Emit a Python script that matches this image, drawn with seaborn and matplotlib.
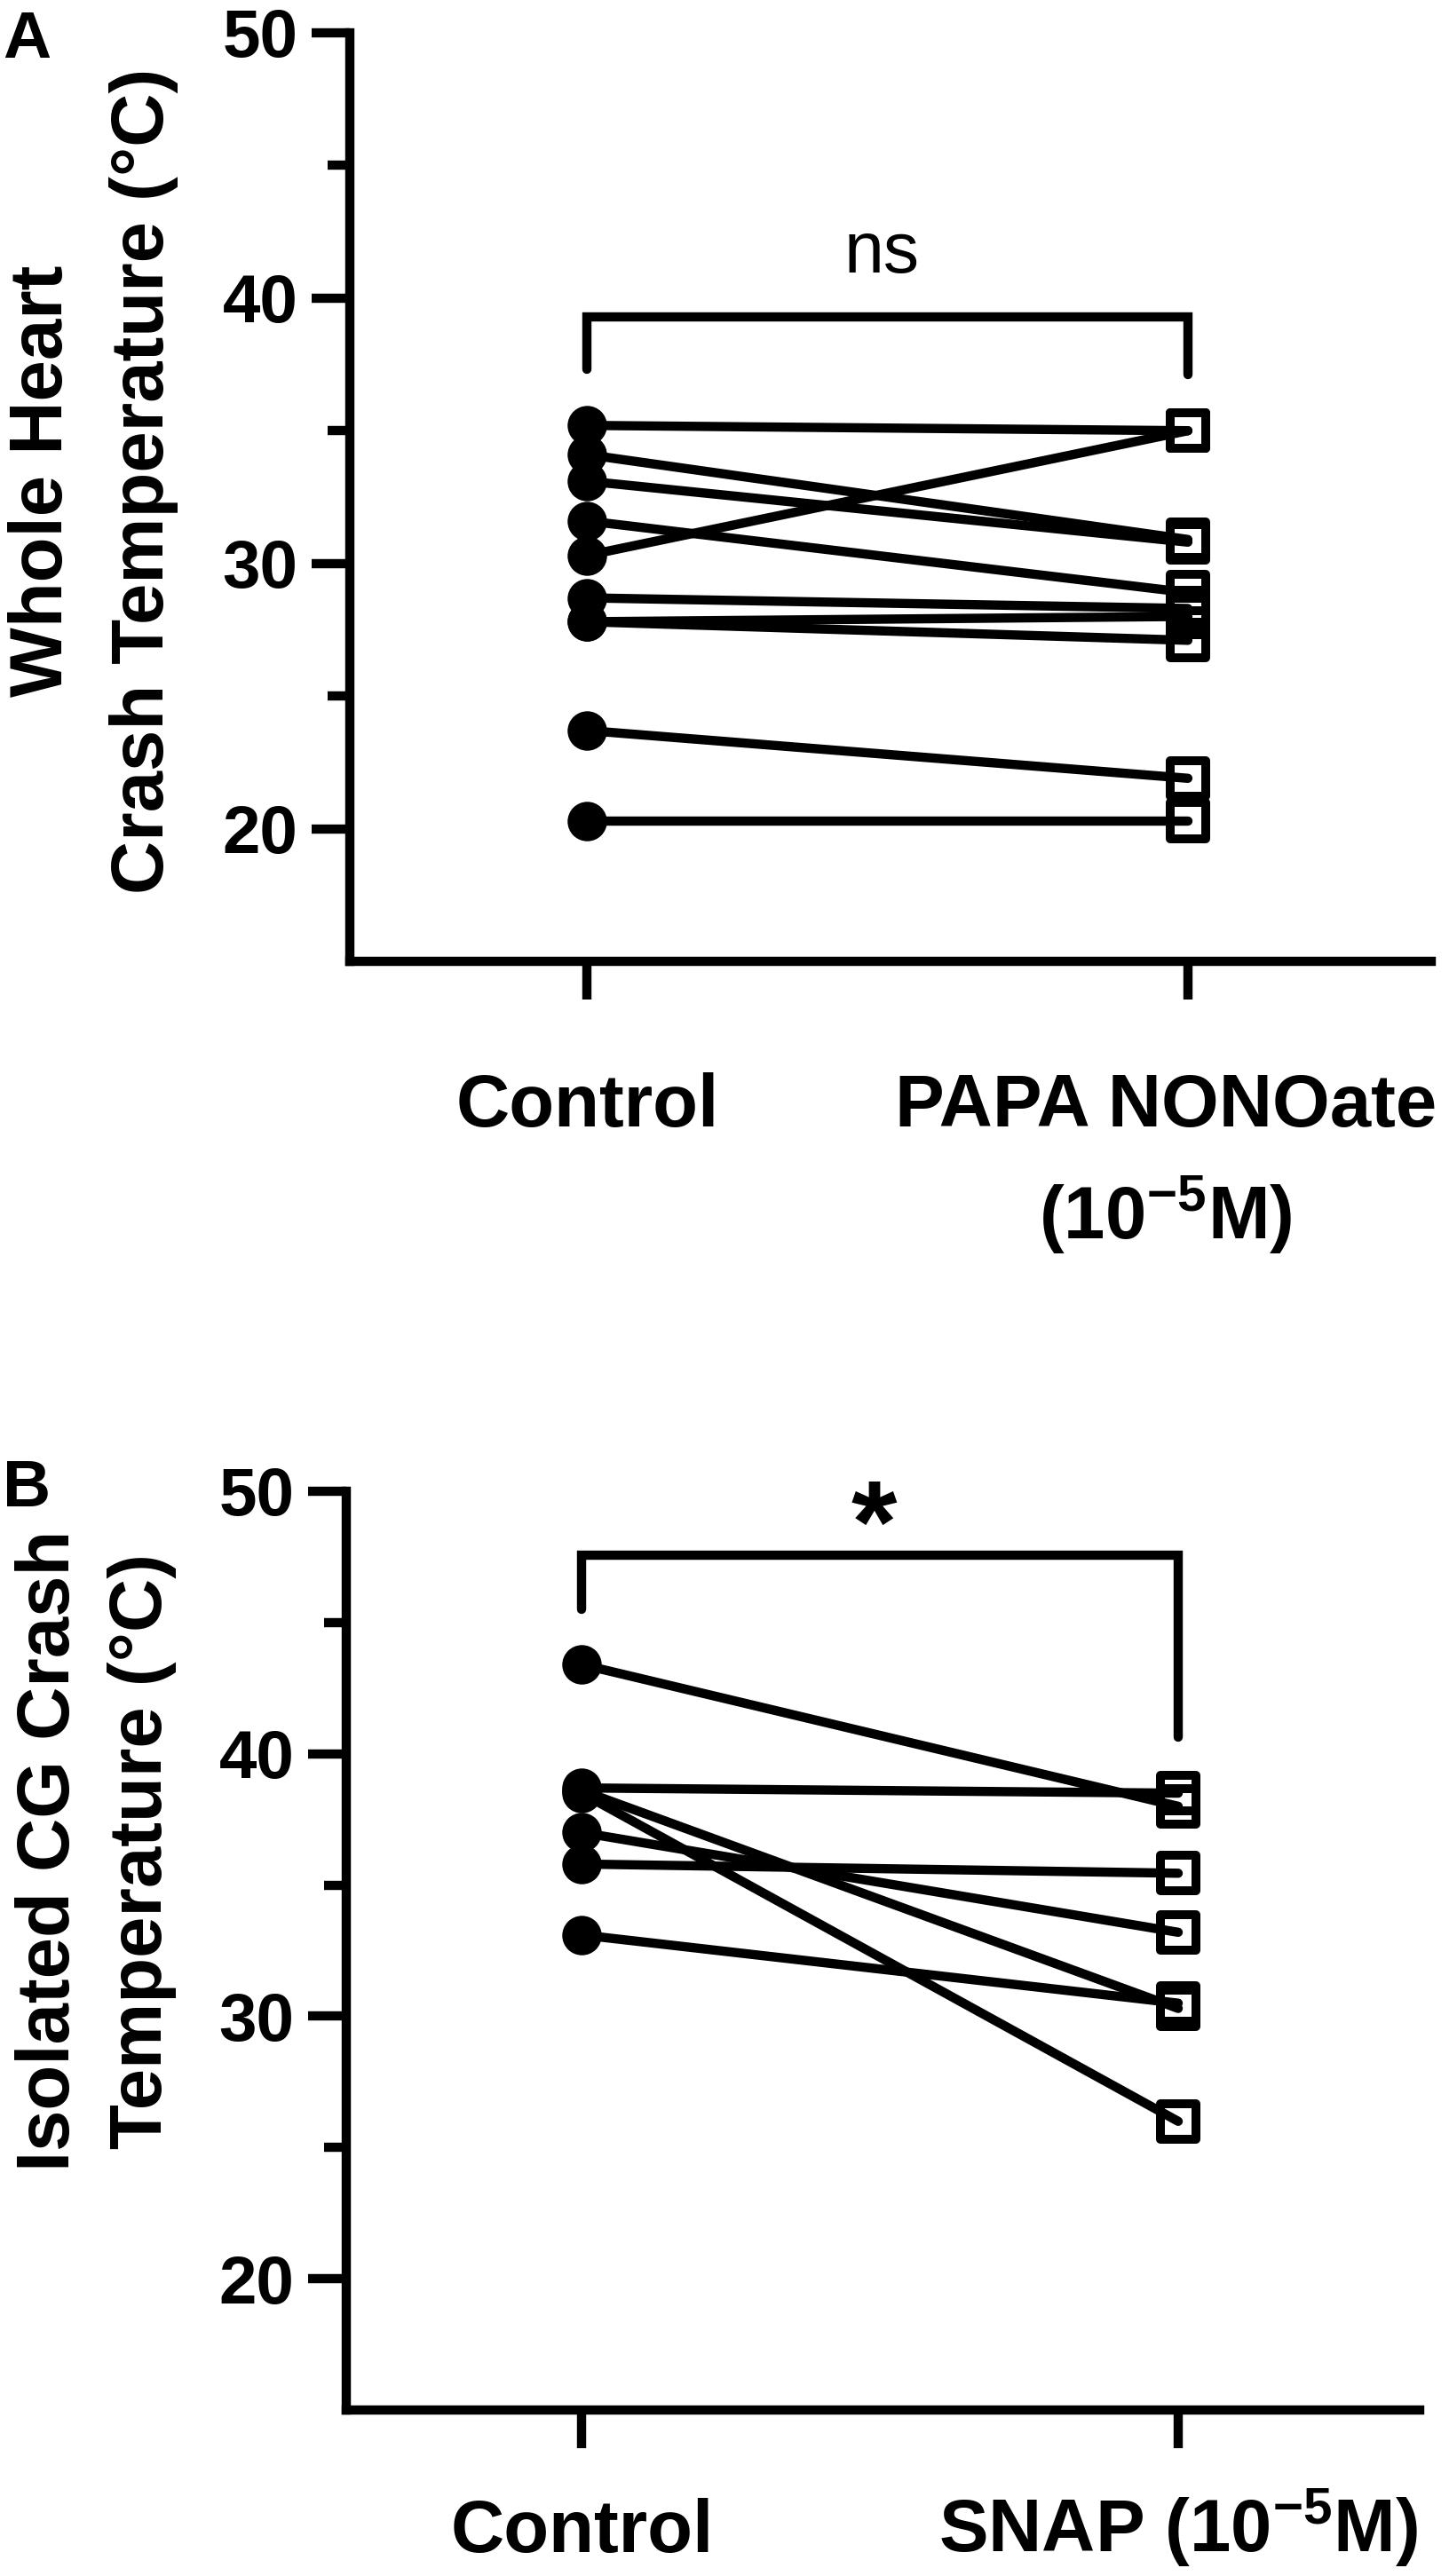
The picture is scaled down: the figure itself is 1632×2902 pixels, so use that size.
import matplotlib
matplotlib.use("Agg")
import matplotlib.pyplot as plt
from matplotlib.transforms import ScaledTranslation
import seaborn as sns
import pandas as pd

# panel A - whole heart, paired control vs PAPA NONOate
a_groups = ["Control", "PAPA NONOate\n(10$^{-5}$M)"]
a_control = [35.2, 34.1, 33.1, 31.6, 30.3, 28.7, 27.8, 27.8, 23.7, 20.3]
a_treated = [35.0, 30.9, 30.8, 28.9, 35.0, 28.3, 28.0, 27.1, 21.9, 20.3]
a_ylabel = "Whole Heart\nCrash Temperature (°C)"

# panel B - isolated cardiac ganglion, paired control vs SNAP
b_groups = ["Control", "SNAP (10$^{-5}$M)"]
b_control = [43.4, 38.7, 38.6, 38.5, 37.0, 35.8, 33.1]
b_treated = [38.0, 38.5, 30.3, 26.0, 33.2, 35.45, 30.5]
b_ylabel = "Isolated CG Crash\nTemperature (°C)"

y_major = [20, 30, 40, 50]
y_minor = [25, 35, 45]

LINE_W = 7.5


def paired_frame(ctrl, trt):
    n = len(ctrl)
    return pd.DataFrame({
        "pair": list(range(n)) * 2,
        "pos": [0] * n + [1] * n,
        "temp": list(ctrl) + list(trt),
    })


def draw_panel(ax, ctrl, trt, groups, x_pad, x_va):
    df = paired_frame(ctrl, trt)

    # one line per animal
    sns.lineplot(data=df, x="pos", y="temp", units="pair", estimator=None,
                 color="black", linewidth=LINE_W, legend=False, ax=ax)
    sns.scatterplot(data=df[df["pos"] == 0], x="pos", y="temp", marker="o",
                    s=32 ** 2, color="black", linewidth=0, legend=False,
                    ax=ax, zorder=3)
    sns.scatterplot(data=df[df["pos"] == 1], x="pos", y="temp", marker="s",
                    s=29 ** 2, facecolors="none", edgecolor="black",
                    linewidth=7.2, legend=False, ax=ax, zorder=3)

    ax.set_xlim(-0.395, 1.405)
    ax.set_ylim(15, 50)
    ax.set_xticks([0, 1])
    ax.set_xticklabels(groups, fontsize=60, fontweight="bold", va=x_va)
    ax.set_yticks(y_major)
    ax.set_yticks(y_minor, minor=True)
    ax.set_yticklabels([str(v) for v in y_major], fontsize=55, fontweight="bold")
    ax.tick_params(which="major", length=31, width=7.5, direction="out")
    ax.tick_params(which="minor", length=18, width=7.5, direction="out")
    ax.tick_params(axis="y", pad=11)
    ax.tick_params(axis="x", pad=x_pad)
    ax.set_xlabel("")
    ax.set_ylabel("")
    sns.despine(ax=ax)
    for sp in ax.spines.values():
        sp.set_capstyle("projecting")


sns.set_theme(style="ticks", rc={
    "axes.edgecolor": "black",
    "axes.linewidth": 7.5,
    "xtick.color": "black",
    "ytick.color": "black",
    "text.color": "black",
    "axes.labelcolor": "black",
})
plt.rcParams["font.family"] = ["Liberation Sans", "DejaVu Sans"]
plt.rcParams["font.weight"] = "bold"
plt.rcParams["mathtext.fontset"] = "custom"
plt.rcParams["mathtext.default"] = "regular"

fig = plt.figure(figsize=(16.33, 29.02), dpi=100)
ax_a = fig.add_axes([0.2413, 0.6268, 0.7458, 0.3605])
ax_b = fig.add_axes([0.2388, 0.0644, 0.7404, 0.3567])

draw_panel(ax_a, a_control, a_treated, a_groups, x_pad=59, x_va="top")
papa = ax_a.get_xticklabels()[1]
papa.set_linespacing(1.5)
# long label sits a little left of its tick so it stays inside the figure
papa.set_transform(papa.get_transform()
                   + ScaledTranslation(-0.25, 0, fig.dpi_scale_trans))
draw_panel(ax_b, b_control, b_treated, b_groups, x_pad=84, x_va="baseline")

# significance brackets
ax_a.plot([0, 0, 1, 1], [37.3, 39.3, 39.3, 37.1], color="black",
          linewidth=LINE_W, solid_joinstyle="miter", clip_on=False)
ax_a.text(0.49, 40.95, "ns", ha="center", va="baseline", fontsize=58,
          fontweight="normal")
ax_b.plot([0, 0, 1, 1], [45.5, 47.57, 47.57, 40.63], color="black",
          linewidth=LINE_W, solid_joinstyle="miter", clip_on=False)
ax_b.text(0.49, 47.3, "*", ha="center", va="baseline", fontsize=95,
          fontweight="bold")

# axis titles
fig.text(0.0643, 0.8132, a_ylabel, rotation=90, ha="center", va="center",
         multialignment="center", linespacing=1.6, fontsize=60, fontweight="bold")
fig.text(0.0661, 0.2815, b_ylabel, rotation=90, ha="center", va="center",
         multialignment="center", linespacing=1.42, fontsize=60, fontweight="bold")

# panel letters
fig.text(0.002, 0.9776, "A", fontsize=54, fontweight="bold", va="baseline")
fig.text(0.002, 0.4152, "B", fontsize=54, fontweight="bold", va="baseline")

fig.savefig("out.png", dpi=100, facecolor="white")
